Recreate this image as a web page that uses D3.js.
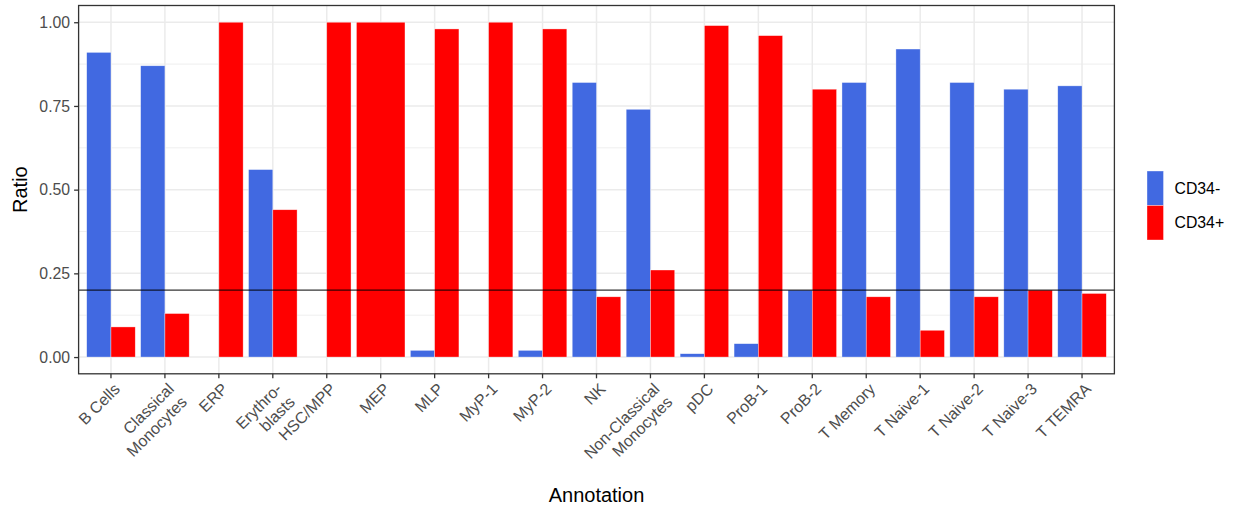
<!DOCTYPE html>
<html>
<head>
<meta charset="utf-8">
<script src="https://cdn.jsdelivr.net/npm/d3@7"></script>
<style>
  html, body { margin: 0; padding: 0; background: #fff; }
  svg { display: block; font-family: "Liberation Sans", Arial, sans-serif; }
</style>
</head>
<body>
<svg id="chart" width="1238" height="512"></svg>
<script>
// ---------- data ----------
const categories = ["B Cells", "Classical\nMonocytes", "ERP", "Erythro-\nblasts", "HSC/MPP", "MEP", "MLP",
  "MyP-1", "MyP-2", "NK", "Non-Classical\nMonocytes", "pDC", "ProB-1", "ProB-2", "T Memory",
  "T Naive-1", "T Naive-2", "T Naive-3", "T TEMRA"];
const seriesNames = ["CD34-", "CD34+"];
// null = group absent for that category (bar then takes the full dodge width)
const cd34neg = [0.91, 0.87, 0.00, 0.56, 0.00, null, 0.02, 0.00, 0.02, 0.82, 0.74, 0.01, 0.04, 0.20, 0.82, 0.92, 0.82, 0.80, 0.81];
const cd34pos = [0.09, 0.13, 1.00, 0.44, 1.00, 1.00, 0.98, 1.00, 0.98, 0.18, 0.26, 0.99, 0.96, 0.80, 0.18, 0.08, 0.18, 0.20, 0.19];
const yTicks = [0, 0.25, 0.5, 0.75, 1.0];
const yMinorTicks = [0.125, 0.375, 0.625, 0.875];
const thresholdValue = 0.2;
const seriesColors = ["#4169E1", "#FF0000"];

// ---------- layout ----------
const svg = d3.select("#chart");
const panel = { left: 78.6, right: 1114.4, top: 5.5, bottom: 373.8 };

const x = d3.scaleBand().domain(categories).range([panel.left, panel.right])
  .paddingInner(0.1).paddingOuter(0.15);
const xSub = d3.scaleBand().domain(seriesNames).range([0, x.bandwidth()]);
const y = d3.scaleLinear().domain([-0.05, 1.05]).range([panel.bottom, panel.top]);
const color = d3.scaleOrdinal().domain(seriesNames).range(seriesColors);

// panel background
svg.append("rect").attr("x", panel.left).attr("y", panel.top)
  .attr("width", panel.right - panel.left).attr("height", panel.bottom - panel.top)
  .attr("fill", "#fff");

// grid
const grid = svg.append("g");
grid.selectAll("line.minor").data(yMinorTicks).join("line")
  .attr("x1", panel.left).attr("x2", panel.right)
  .attr("y1", d => y(d)).attr("y2", d => y(d))
  .attr("stroke", "#EBEBEB").attr("stroke-width", 0.8);
grid.selectAll("line.majy").data(yTicks).join("line")
  .attr("x1", panel.left).attr("x2", panel.right)
  .attr("y1", d => y(d)).attr("y2", d => y(d))
  .attr("stroke", "#EBEBEB").attr("stroke-width", 1.5);
grid.selectAll("line.majx").data(categories).join("line")
  .attr("y1", panel.top).attr("y2", panel.bottom)
  .attr("x1", d => x(d) + x.bandwidth() / 2).attr("x2", d => x(d) + x.bandwidth() / 2)
  .attr("stroke", "#EBEBEB").attr("stroke-width", 1.5);

// bars
const rows = [];
categories.forEach((c, i) => {
  const present = [];
  if (cd34neg[i] !== null) present.push({ s: "CD34-", v: cd34neg[i] });
  if (cd34pos[i] !== null) present.push({ s: "CD34+", v: cd34pos[i] });
  present.forEach(p => {
    const full = present.length === 1;
    rows.push({
      c, s: p.s, v: p.v,
      x0: full ? x(c) : x(c) + xSub(p.s),
      w: full ? x.bandwidth() : xSub.bandwidth()
    });
  });
});
svg.append("g").selectAll("rect").data(rows.filter(r => r.v > 0)).join("rect")
  .attr("x", d => d.x0).attr("width", d => d.w)
  .attr("y", d => y(d.v)).attr("height", d => y(0) - y(d.v))
  .attr("fill", d => color(d.s))
  .attr("stroke", "#fff").attr("stroke-opacity", 0.6).attr("stroke-width", 0.6);

// threshold line
svg.append("line").attr("x1", panel.left).attr("x2", panel.right)
  .attr("y1", y(thresholdValue)).attr("y2", y(thresholdValue))
  .attr("stroke", "#000").attr("stroke-width", 1);

// panel border
svg.append("rect").attr("x", panel.left).attr("y", panel.top)
  .attr("width", panel.right - panel.left).attr("height", panel.bottom - panel.top)
  .attr("fill", "none").attr("stroke", "#333333").attr("stroke-width", 1.3);

// y axis
const yAxis = svg.append("g").attr("transform", `translate(${panel.left},0)`)
  .call(d3.axisLeft(y).tickValues(yTicks).tickFormat(d3.format(".2f")).tickSize(4.5).tickPadding(4));
yAxis.select(".domain").remove();
yAxis.selectAll(".tick line").attr("stroke", "#333333").attr("stroke-width", 1.3);
yAxis.selectAll(".tick text").attr("fill", "#4D4D4D").style("font-size", "15.8px")
  .style("font-family", "'Liberation Sans', Arial, sans-serif");

// x axis
const xAxis = svg.append("g").attr("transform", `translate(0,${panel.bottom})`)
  .call(d3.axisBottom(x).tickSize(4.5).tickFormat(""));
xAxis.select(".domain").remove();
xAxis.selectAll(".tick line").attr("stroke", "#333333").attr("stroke-width", 1.3);

const xl = svg.append("g").selectAll("text").data(categories).join("text")
  .attr("transform", d => `translate(${x(d) + x.bandwidth() / 2 + 10},${390}) rotate(-45)`)
  .attr("text-anchor", "end").attr("fill", "#4D4D4D").style("font-size", "16px");
xl.each(function (d) {
  const lines = d.split("\n");
  const t = d3.select(this);
  lines.forEach((ln, i) => {
    t.append("tspan").attr("x", 0).attr("dy", i === 0 ? 0 : "1.15em").text(ln);
  });
});

// axis titles
svg.append("text").attr("x", (panel.left + panel.right) / 2).attr("y", 502)
  .attr("text-anchor", "middle").style("font-size", "20px").attr("fill", "#000").text("Annotation");
svg.append("text").attr("transform", `translate(27,${(panel.top + panel.bottom) / 2}) rotate(-90)`)
  .attr("text-anchor", "middle").style("font-size", "20px").attr("fill", "#000").text("Ratio");

// legend
const legend = svg.append("g").attr("transform", "translate(1147,171)");
const keyW = 16.5, keyH = 34.5;
seriesNames.forEach((s, i) => {
  legend.append("rect").attr("x", 0).attr("y", i * keyH).attr("width", keyW).attr("height", keyH)
    .attr("fill", color(s)).attr("stroke", "#fff").attr("stroke-opacity", 0.6).attr("stroke-width", 0.6);
  legend.append("text").attr("x", keyW + 11).attr("y", i * keyH + keyH / 2)
    .attr("dy", "0.36em").style("font-size", "15.8px").attr("fill", "#000").text(s);
});
</script>
</body>
</html>
